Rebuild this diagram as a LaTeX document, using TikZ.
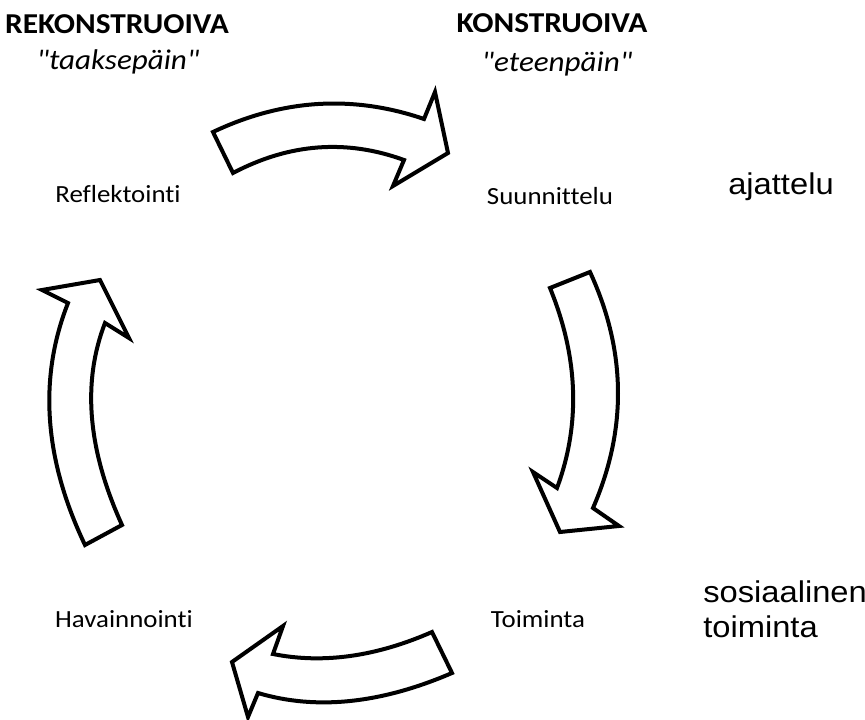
\documentclass[tikz,border=0pt]{standalone}
\usepackage{fontspec}
\setmainfont{Carlito}[Ligatures={TeX,CommonOff}]
\newfontfamily\arialfont{Liberation Sans}
\newcommand{\widetxt}[1]{\scalebox{1.09}[1]{#1}}
\begin{document}
\begin{tikzpicture}[x=0.75pt,y=-0.75pt,
  bigarrow/.style={draw=black,fill=white,line width=3pt,line join=miter},
  header/.style={font=\fontsize{21.6}{25}\selectfont\bfseries,anchor=base,inner sep=0pt},
  subhead/.style={font=\fontsize{21.4}{25}\selectfont\itshape,anchor=base,inner sep=0pt},
  stage/.style={font=\fontsize{18.5}{22}\selectfont,anchor=base,inner sep=0pt},
  side/.style={font=\arialfont\fontsize{22.5}{27}\selectfont,anchor=base west,inner sep=0pt}]
\useasboundingbox (0,0) rectangle (865,720);
% headings
\node[header] (rek) at (117,34) {\widetxt{REKONSTRUOIVA}};
\node[subhead] (taak) at (118,70) {\widetxt{\textquotedbl taaksepäin\textquotedbl}};
\node[header] (kon) at (552,33) {\widetxt{KONSTRUOIVA}};
\node[subhead] (etee) at (557,72) {\widetxt{\textquotedbl eteenpäin\textquotedbl}};
% stages
\node[stage] (refl) at (118,203) {\widetxt{Reflektointi}};
\node[stage] (suun) at (550,205) {\widetxt{Suunnittelu}};
\node[stage] (toim) at (538,628) {\widetxt{Toiminta}};
\node[stage] (hava) at (124,628) {\widetxt{Havainnointi}};
% side labels
\node[side] (ajat) at (728,195) {\widetxt{ajattelu}};
\node[side] (sos) at (703,602) {\widetxt{sosiaalinen}};
\node[side] (toim2) at (703,638) {\widetxt{toiminta}};
% top arrow
\draw[bigarrow] (213,132) .. controls (282.7,99) and (353,94.7) .. (424,119)
  -- (435,92) -- (448,153) -- (393,186) -- (404,160)
  .. controls (346.3,139) and (289.3,143.3) .. (233,173) -- cycle;
% right arrow
\draw[bigarrow] (590,272) .. controls (626.3,350.7) and (627.3,429.3) .. (593,508)
  -- (619,526) -- (560,532) -- (533,472) -- (557,488)
  .. controls (580.7,424) and (578.3,357.3) .. (550,288) -- cycle;
% bottom arrow
\draw[bigarrow] (432,632) .. controls (375.7,656.7) and (322.7,664) .. (273,654)
  -- (283,626) -- (232,662) -- (248,717) -- (258,693)
  .. controls (316,710.3) and (380.7,703.7) .. (452,673) -- cycle;
% left arrow
\draw[bigarrow] (85,545) .. controls (44,459) and (38.3,378.3) .. (68,303)
  -- (42,290) -- (100,280) -- (129,338) -- (105,323)
  .. controls (82,382.3) and (87.7,449.7) .. (122,525) -- cycle;
\end{tikzpicture}
\end{document}
